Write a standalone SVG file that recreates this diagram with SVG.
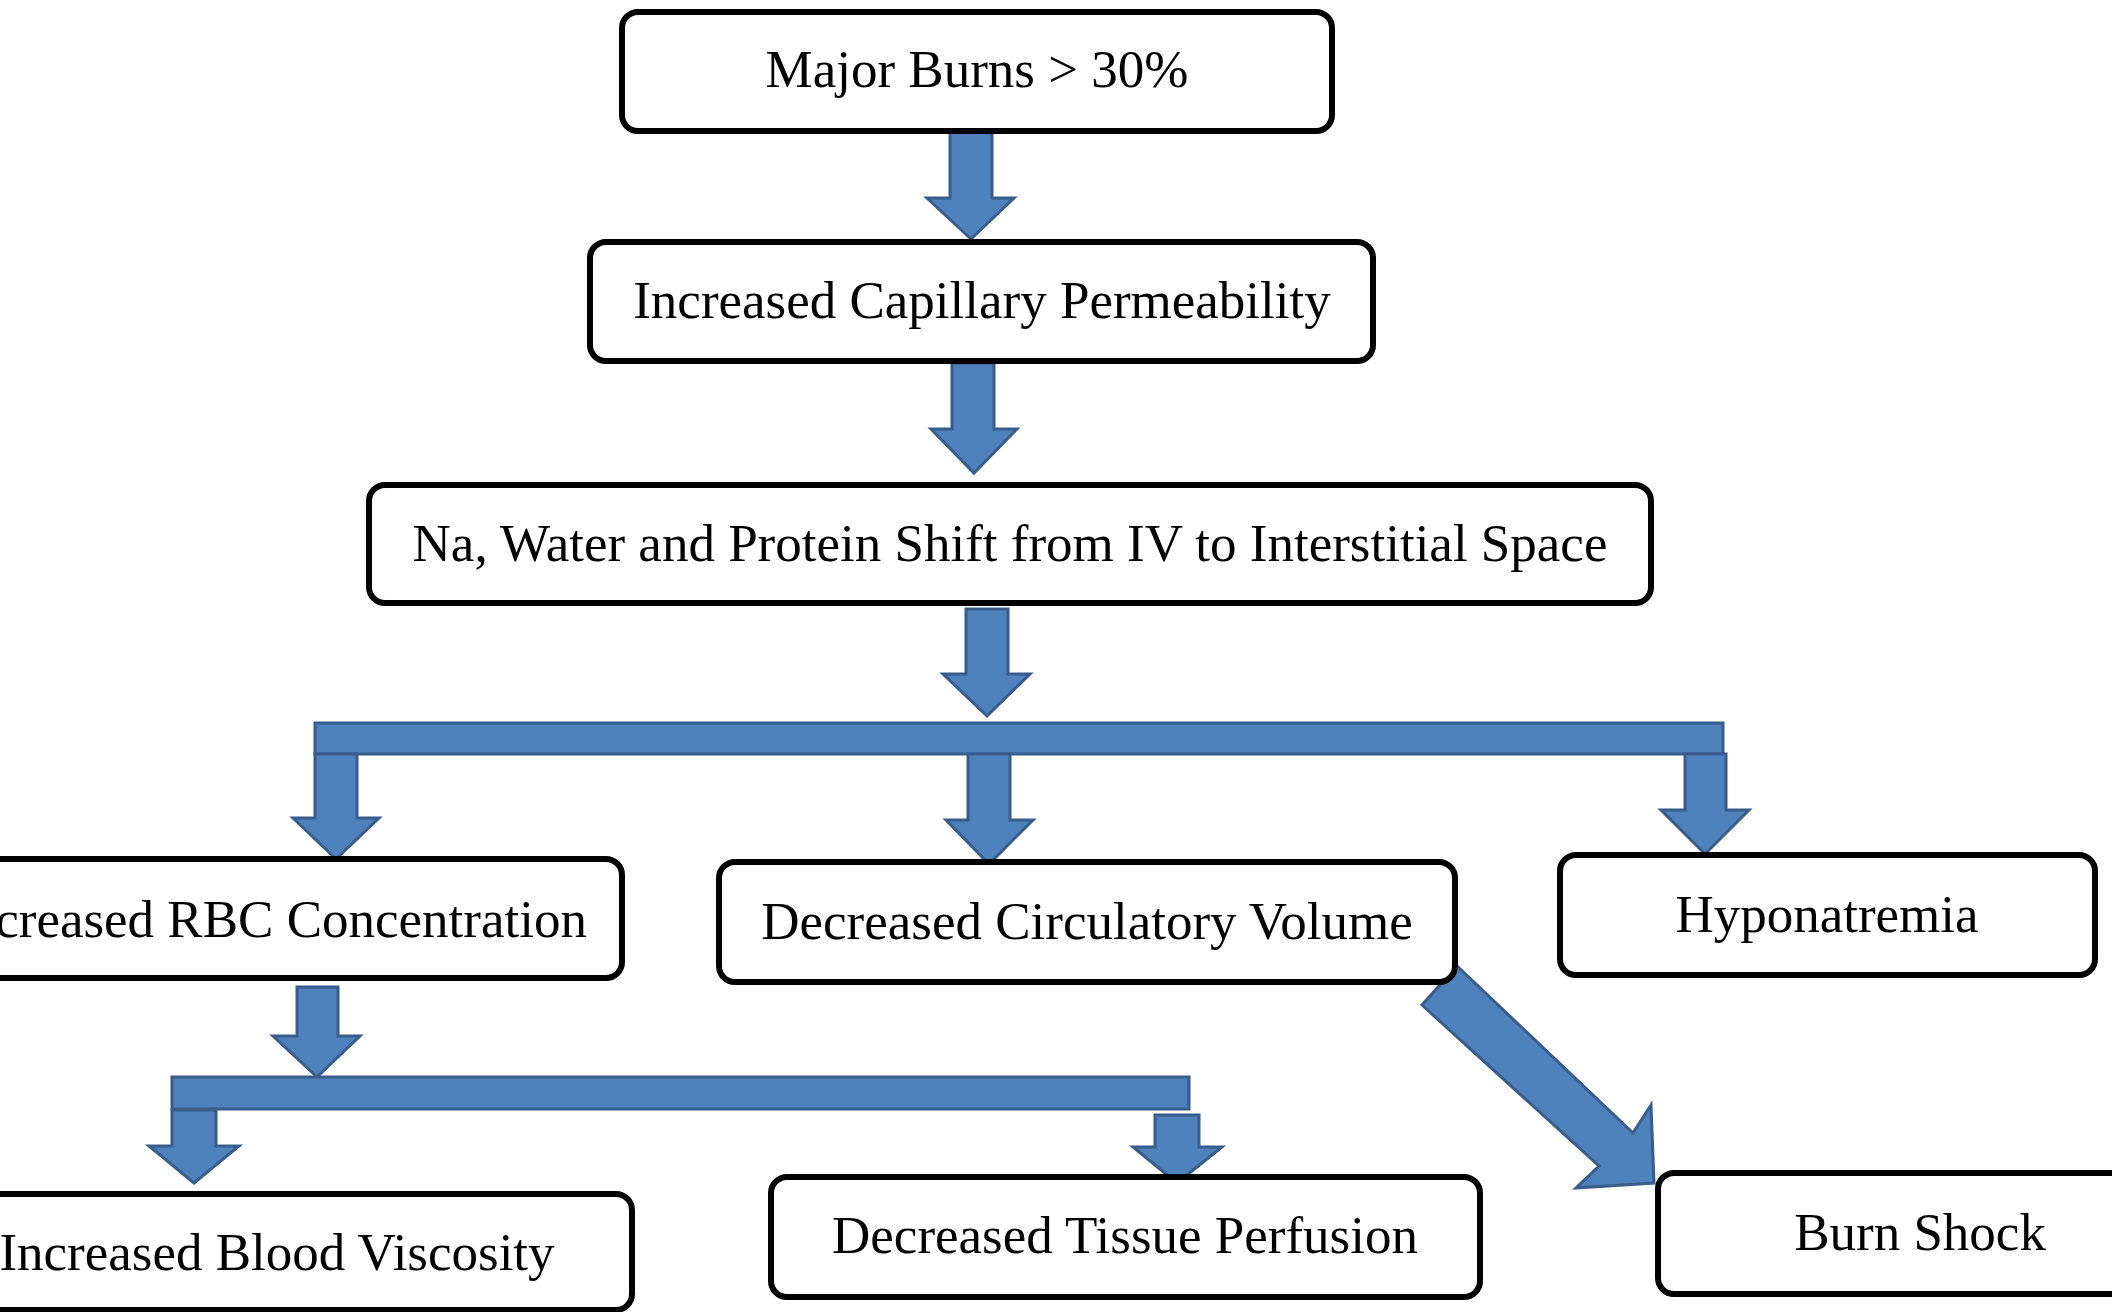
<svg xmlns="http://www.w3.org/2000/svg" width="2112" height="1312" viewBox="0 0 2112 1312">
<style>
.box{fill:#ffffff;stroke:#000000;stroke-width:6}
.arr{fill:#4F81BD;stroke:#385D8A;stroke-width:3;stroke-linejoin:miter}
.t{font-family:"Liberation Serif","Times New Roman",serif;font-size:53px;fill:#000000;text-anchor:middle}
</style>
<rect width="2112" height="1312" fill="#ffffff"/>
<g id="connectors">
<polygon class="arr" points="950,132 992,132 992,198 1014,198 971,239 927,198 950,198"/>
<polygon class="arr" points="952,363 994,363 994,429 1017,429 974,473 931,429 952,429"/>
<polygon class="arr" points="966,609 1008,609 1008,674 1030,674 987,716 943,674 966,674"/>
<rect class="arr" x="315" y="723" width="1408" height="31"/>
<polygon class="arr" points="315,754 357,754 357,818 379,818 336,859 293,818 315,818"/>
<polygon class="arr" points="968,754 1010,754 1010,820 1033,820 989,864 946,820 968,820"/>
<polygon class="arr" points="1685,754 1726,754 1726,810 1749,810 1705,854 1661,810 1685,810"/>
<polygon class="arr" points="297,987 338,987 338,1036 360,1036 317,1077 273,1036 297,1036"/>
<rect class="arr" x="172" y="1077" width="1017" height="32"/>
<polygon class="arr" points="172,1110 216,1110 216,1146 239,1146 194,1183 149,1146 172,1146"/>
<polygon class="arr" points="1155,1115 1199,1115 1199,1147 1222,1147 1177,1183 1133,1147 1155,1147"/>
<polygon class="arr" points="1457,966 1633,1133 1651,1105 1654,1183 1576,1188 1599,1166 1422,1005"/>
</g>
<g id="n1"><rect class="box" x="622" y="12" width="710" height="119" rx="16"/><text class="t" x="977" y="87">Major Burns &gt; 30%</text></g>
<g id="n2"><rect class="box" x="590" y="242" width="783" height="119" rx="16"/><text class="t" x="982" y="318">Increased Capillary Permeability</text></g>
<g id="n3"><rect class="box" x="369" y="485" width="1282" height="118" rx="16"/><text class="t" x="1010" y="561">Na, Water and Protein Shift from IV to Interstitial Space</text></g>
<g id="n4"><rect class="box" x="-84" y="859" width="706" height="119" rx="16"/><text class="t" x="269" y="937">Increased RBC Concentration</text></g>
<g id="n5"><rect class="box" x="719" y="862" width="736" height="120" rx="16"/><text class="t" x="1087" y="939">Decreased Circulatory Volume</text></g>
<g id="n6"><rect class="box" x="1560" y="855" width="535" height="120" rx="16"/><text class="t" x="1827" y="932">Hyponatremia</text></g>
<g id="n7"><rect class="box" x="-78" y="1194" width="710" height="116" rx="16"/><text class="t" x="277" y="1270">Increased Blood Viscosity</text></g>
<g id="n8"><rect class="box" x="771" y="1177" width="709" height="120" rx="16"/><text class="t" x="1125" y="1253">Decreased Tissue Perfusion</text></g>
<g id="n9"><rect class="box" x="1658" y="1173" width="524" height="121" rx="16"/><text class="t" x="1920" y="1250">Burn Shock</text></g>
</svg>
